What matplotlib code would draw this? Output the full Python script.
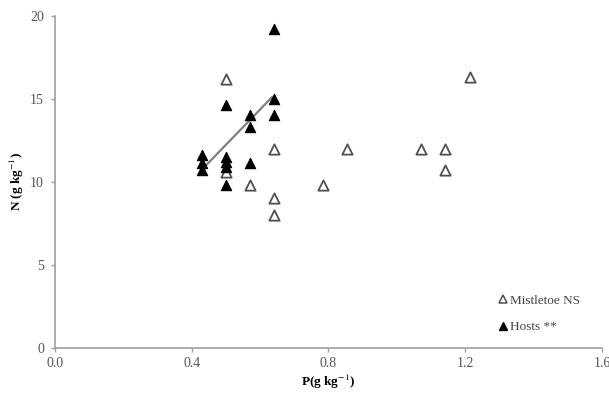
import matplotlib
matplotlib.use("Agg")
import matplotlib.pyplot as plt
from matplotlib.lines import Line2D

plt.rcParams['font.family'] = ['Liberation Serif', 'DejaVu Serif']
plt.rcParams['mathtext.fontset'] = 'stix'

# Mistletoe (open triangles)
mist_p = [0.50, 0.64, 0.50, 0.57, 0.64, 0.64, 0.785, 0.855, 1.07, 1.14, 1.14, 1.215]
mist_n = [16.2, 12.0, 10.6, 9.8, 9.0, 8.0, 9.8, 12.0, 12.0, 12.0, 10.7, 16.3]

# Hosts (filled triangles)
host_p = [0.64, 0.50, 0.64, 0.64, 0.57, 0.57, 0.57, 0.50, 0.50, 0.50, 0.50, 0.43, 0.43, 0.43]
host_n = [19.2, 14.6, 15.0, 14.0, 14.0, 13.3, 11.1, 11.5, 11.2, 10.9, 9.8, 11.6, 11.1, 10.7]

# Regression line for hosts
fit_p = [0.44, 0.635]
fit_n = [10.95, 15.1]

xticks = [0.0, 0.4, 0.8, 1.2, 1.6]
yticks = [0, 5, 10, 15, 20]

fig = plt.figure(figsize=(6.09, 3.94), dpi=100)
ax = fig.add_axes([0.0903, 0.1175, 0.8982, 0.8425])

ax.plot(fit_p, fit_n, color='#808080', lw=1.6, zorder=2)
ax.scatter(mist_p, mist_n, marker='^', s=55, facecolors='white',
           edgecolors='#505050', linewidths=1.3, zorder=3)
ax.scatter(host_p, host_n, marker='^', s=55, facecolors='black',
           edgecolors='black', linewidths=0.8, zorder=4)

ax.set_xlim(0, 1.6)
ax.set_ylim(0, 20)
ax.set_xticks(xticks)
ax.set_xticklabels([f"{t:.1f}" for t in xticks])
ax.set_yticks(yticks)
ax.set_yticklabels([str(t) for t in yticks])

for s in ['top', 'right']:
    ax.spines[s].set_visible(False)
for s in ['left', 'bottom']:
    ax.spines[s].set_color('#a0a0a0')
    ax.spines[s].set_linewidth(1.2)

ax.tick_params(axis='both', colors='#a0a0a0', labelcolor='#555555',
               labelsize=10, length=3, width=1, direction='out')
ax.tick_params(axis='x', pad=4)
ax.tick_params(axis='y', pad=5)

ax.set_xlabel(r'P(g kg$^{-1}$)', fontsize=9.5, fontweight='bold', labelpad=2)
ax.set_ylabel(r'N (g kg$^{-1}$)', fontsize=9.5, fontweight='bold', labelpad=3)

handles = [
    Line2D([], [], marker='^', linestyle='none', markerfacecolor='white',
           markeredgecolor='#505050', markersize=6, markeredgewidth=1.1),
    Line2D([], [], marker='^', linestyle='none', markerfacecolor='black',
           markeredgecolor='black', markersize=6),
]
leg = ax.legend(handles, ['Mistletoe NS', 'Hosts **'], loc='lower left',
                bbox_to_anchor=(0.79, 0.015), frameon=False, fontsize=9.5,
                handletextpad=0.0, handlelength=1.0, labelspacing=1.1,
                borderpad=0.2)
for t in leg.get_texts():
    t.set_color('#444444')

fig.savefig('out.png', dpi=100)
